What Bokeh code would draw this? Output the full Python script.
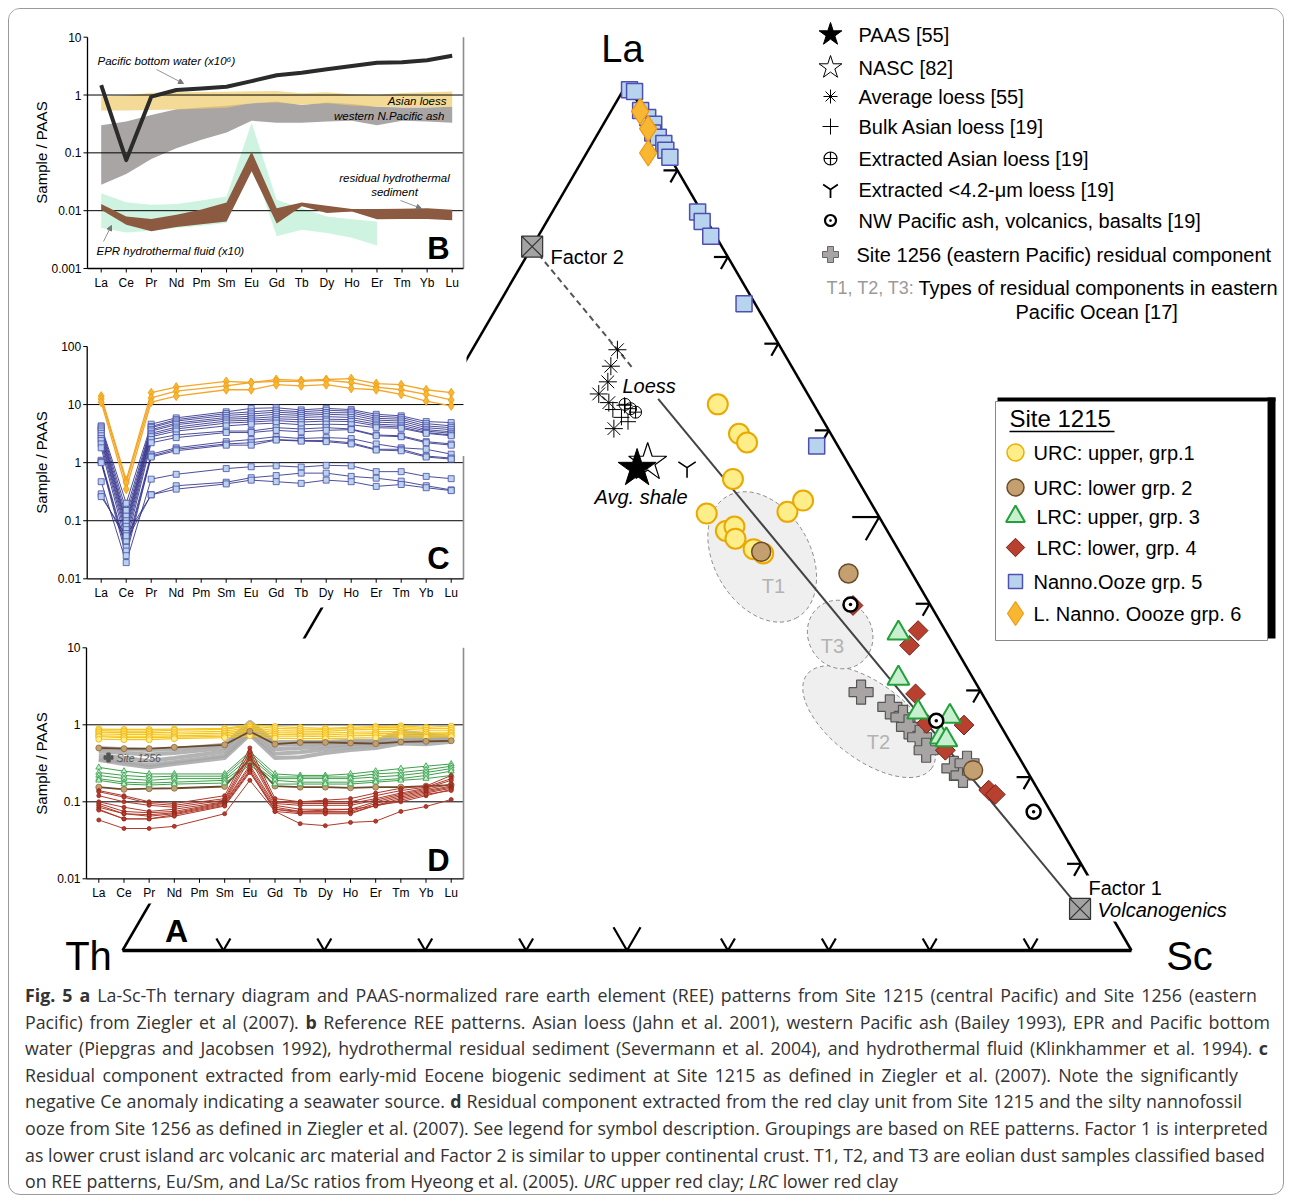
import math
from bokeh.plotting import figure
from bokeh.models import Range1d, LogScale, Div, Arrow, NormalHead
from bokeh.layouts import column
from bokeh.core.properties import value
from bokeh.embed import file_html
from bokeh.resources import INLINE

# ------------------------------------------------------------------ data
REE = ["La", "Ce", "Pr", "Nd", "Pm", "Sm", "Eu", "Gd", "Tb", "Dy", "Ho", "Er", "Tm", "Yb", "Lu"]

# Ternary La-Sc-Th (fractions; Th = 1 - La - Sc)
NANNO_LA = [0.993, 0.991, 0.969, 0.961, 0.953, 0.943, 0.938, 0.931, 0.923, 0.915, 0.852, 0.841, 0.824, 0.746, 0.582]
NANNO_SC = [0.006, 0.012, 0.029, 0.040, 0.050, 0.054, 0.062, 0.071, 0.077, 0.085, 0.144, 0.154, 0.171, 0.243, 0.397]
LNANNO_LA = [0.968, 0.948, 0.920]
LNANNO_SC = [0.029, 0.047, 0.061]
URC_UP_LA = [0.630, 0.596, 0.586, 0.544, 0.504, 0.484, 0.489, 0.475, 0.463, 0.458, 0.506, 0.519]
URC_UP_SC = [0.275, 0.313, 0.326, 0.333, 0.327, 0.356, 0.362, 0.370, 0.394, 0.406, 0.406, 0.415]
URC_LO_LA = [0.460, 0.435, 0.208]
URC_LO_SC = [0.403, 0.502, 0.739]
LRC_UP_LA = [0.366, 0.314, 0.275, 0.270, 0.246, 0.243]
LRC_UP_SC = [0.586, 0.612, 0.651, 0.685, 0.688, 0.695]
LRC_LO_LA = [0.398, 0.369, 0.352, 0.296, 0.262, 0.260, 0.231, 0.185, 0.180]
LRC_LO_SC = [0.525, 0.604, 0.604, 0.638, 0.666, 0.704, 0.700, 0.766, 0.775]
S1256_LA = [0.298, 0.281, 0.269, 0.258, 0.246, 0.231, 0.210, 0.202, 0.216]
S1256_SC = [0.583, 0.620, 0.639, 0.650, 0.667, 0.681, 0.719, 0.732, 0.729]
NWASH_LA = [0.399, 0.265, 0.160]
NWASH_SC = [0.522, 0.674, 0.823]
AVGLOESS_LA = [0.693, 0.674, 0.656, 0.642, 0.632, 0.602]
AVGLOESS_SC = [0.144, 0.147, 0.153, 0.151, 0.166, 0.186]
BULKLOESS_LA = [0.624, 0.629, 0.615, 0.610]
BULKLOESS_SC = [0.174, 0.183, 0.187, 0.196]
EXTLOESS_LA = [0.630, 0.625, 0.621]
EXTLOESS_SC = [0.183, 0.191, 0.198]
FINELOESS_LA = [0.557]
FINELOESS_SC = [0.281]
PAAS_LA, PAAS_SC = [0.556], [0.232]
NASC_LA, NASC_SC = [0.563], [0.239]
FACTOR_LA = [0.812, 0.048]   # Factor 2, Factor 1
FACTOR_SC = [0.000, 0.925]
TICKS = [0.1, 0.2, 0.3, 0.4, 0.5, 0.6, 0.7, 0.8, 0.9]
# eolian dust fields T1, T2, T3 (centres)
FIELD_NAMES = ["T1", "T2", "T3"]
FIELD_LA = [0.454, 0.264, 0.3645]
FIELD_SC = [0.407, 0.608, 0.529]

# Panel B reference patterns (Sample/PAAS)
PBW = [1.49, 0.075, 0.94, 1.22, 1.30, 1.39, 1.74, 2.2, 2.43, 2.78, 3.17, 3.6, 3.7, 4.0, 4.77]
LOESS_LO = [0.54, 0.54, 0.55, 0.56, 0.58, 0.60, 0.72, 0.74, 0.68, 0.72, 0.66, 0.63, 0.62, 0.62, 0.62]
LOESS_HI = [0.94, 0.98, 1.10, 1.12, 1.13, 1.14, 1.16, 1.17, 1.07, 1.12, 1.03, 1.00, 1.08, 1.12, 1.15]
ASH_LO = [0.028, 0.043, 0.078, 0.12, 0.168, 0.225, 0.36, 0.33, 0.33, 0.35, 0.36, 0.30, 0.36, 0.35, 0.33]
ASH_HI = [0.30, 0.35, 0.45, 0.57, 0.61, 0.65, 0.72, 0.77, 0.67, 0.74, 0.70, 0.63, 0.61, 0.61, 0.63]
EPR_HI = [0.020, 0.014, 0.0127, 0.013, 0.015, 0.0176, 0.33, 0.0154, 0.011, 0.0079, 0.0071, 0.0065]
EPR_LO = [0.005, 0.0042, 0.0045, 0.005, 0.0055, 0.0061, 0.07, 0.0036, 0.0047, 0.0041, 0.0034, 0.0025]
RHS_HI = [0.013, 0.0079, 0.0072, 0.0085, 0.0105, 0.0138, 0.105, 0.011, 0.0138, 0.0122, 0.0107, 0.0107, 0.0108, 0.011, 0.0104]
RHS_LO = [0.0104, 0.0057, 0.0044, 0.0052, 0.0058, 0.0065, 0.048, 0.006, 0.0119, 0.0091, 0.0097, 0.0071, 0.0072, 0.0072, 0.0068]

# Panel C: residual component, early-mid Eocene biogenic sediment (Pm not measured)
C_GRP6 = [
    [14, 0.5, 16, 20, None, 25, 24, 27, 26, 27, 28, 23, 22, 18, 16],
    [12.5, 0.45, 13, 17, None, 21, 24, 25, 25, 26, 24, 20, 18, 15, 12],
    [11, 0.35, 11, 14, None, 18, 18, 22, 21, 22, 19, 18, 15, 11.5, 9.5],
]
C_GRP5 = [
    [4.3, 0.20, 4.6, 5.9, None, 7.5, 8.6, 8.8, 8.1, 8.6, 8.2, 6.8, 6.4, 5.1, 4.9],
    [4.1, 0.15, 4.2, 5.5, None, 7.0, 7.5, 8.0, 7.5, 8.0, 7.7, 6.3, 6.0, 4.7, 4.3],
    [3.8, 0.12, 4.0, 5.2, None, 6.5, 6.9, 7.4, 7.0, 7.3, 7.2, 5.8, 5.6, 4.3, 4.0],
    [3.5, 0.10, 3.7, 4.8, None, 6.0, 6.3, 6.8, 6.5, 6.8, 6.6, 5.4, 5.2, 4.0, 3.7],
    [3.2, 0.09, 3.5, 4.5, None, 5.6, 5.8, 6.2, 6.0, 6.2, 6.0, 5.0, 4.8, 3.7, 3.4],
    [2.9, 0.08, 3.2, 4.1, None, 5.2, 5.4, 5.7, 5.5, 5.6, 5.5, 4.6, 4.4, 3.5, 3.2],
    [2.6, 0.07, 3.0, 3.8, None, 4.8, 5.0, 5.3, 5.0, 5.2, 5.1, 4.3, 4.1, 3.3, 3.0],
    [2.4, 0.06, 2.8, 3.5, None, 4.3, 4.6, 4.8, 4.5, 4.6, 4.5, 4.0, 3.9, 3.2, 2.9],
    [2.1, 0.05, 2.5, 3.0, None, 3.5, 3.5, 4.0, 3.8, 4.0, 3.8, 3.0, 2.9, 2.3, 2.1],
    [1.8, 0.04, 2.2, 2.7, None, 3.3, 3.3, 3.6, 3.4, 3.6, 3.7, 2.9, 2.8, 2.2, 2.0],
    [1.1, 0.035, 1.4, 1.8, None, 2.3, 2.5, 2.8, 2.6, 2.7, 2.6, 2.1, 1.8, 1.7, 1.4],
    [1.05, 0.03, 1.3, 1.7, None, 2.1, 2.2, 2.5, 2.4, 2.4, 2.2, 1.7, 1.7, 1.3, 1.2],
    [1.0, 0.025, 1.25, 1.6, None, 2.0, 2.0, 2.45, 2.35, 2.3, 2.1, 1.65, 1.6, 1.25, 1.15],
    [0.47, 0.019, 0.52, 0.63, None, 0.79, 0.85, 0.88, 0.84, 0.90, 0.88, 0.70, 0.70, 0.58, 0.53],
    [0.29, 0.045, 0.28, 0.40, None, 0.46, 0.55, 0.60, 0.66, 0.66, 0.58, 0.54, 0.48, 0.40, 0.34],
    [0.26, 0.055, 0.28, 0.35, None, 0.43, 0.50, 0.47, 0.44, 0.50, 0.47, 0.39, 0.42, 0.37, 0.33],
]

# Panel D: residual component, red clay (Site 1215) and Site 1256
D_S1256 = [
    [0.50, 0.48, 0.47, 0.48, None, 0.55, 1.10, 0.60, 0.60, 0.60, 0.62, 0.62, 0.82, 0.75, 0.70],
    [0.45, 0.43, 0.41, 0.43, None, 0.50, 1.00, 0.55, 0.56, 0.58, 0.60, 0.60, 0.75, 0.70, 0.68],
    [0.40, 0.37, 0.34, 0.37, None, 0.45, 0.90, 0.48, 0.50, 0.53, 0.56, 0.58, 0.68, 0.66, 0.66],
    [0.36, 0.33, 0.30, 0.33, None, 0.40, 0.80, 0.42, 0.44, 0.48, 0.52, 0.55, 0.62, 0.62, 0.63],
    [0.35, 0.31, 0.28, 0.31, None, 0.37, 0.75, 0.37, 0.38, 0.43, 0.47, 0.50, 0.57, 0.56, 0.60],
]
D_GRP1 = [
    [0.88, 0.87, 0.87, 0.88, None, 0.90, 1.00, 0.95, 0.92, 0.90, 0.93, 0.95, 0.97, 0.93, 0.96],
    [0.84, 0.83, 0.83, 0.85, None, 0.87, 0.97, 0.90, 0.88, 0.87, 0.90, 0.92, 0.92, 0.90, 0.90],
    [0.80, 0.79, 0.79, 0.80, None, 0.82, 0.93, 0.84, 0.83, 0.82, 0.86, 0.87, 0.88, 0.85, 0.85],
    [0.76, 0.75, 0.75, 0.76, None, 0.78, 0.88, 0.79, 0.78, 0.78, 0.80, 0.81, 0.82, 0.80, 0.80],
    [0.72, 0.71, 0.71, 0.72, None, 0.74, 0.84, 0.75, 0.74, 0.74, 0.76, 0.77, 0.78, 0.76, 0.77],
    [0.70, 0.68, 0.68, 0.69, None, 0.71, 0.78, 0.71, 0.71, 0.70, 0.72, 0.73, 0.74, 0.72, 0.73],
    [0.65, 0.64, 0.64, 0.66, None, 0.68, 0.72, 0.67, 0.66, 0.66, 0.67, 0.68, 0.70, 0.69, 0.70],
]
D_GRP2 = [
    [0.50, 0.49, 0.49, 0.51, None, 0.55, 0.82, 0.56, 0.59, 0.59, 0.58, 0.57, 0.60, 0.61, 0.62],
    [0.155, 0.145, 0.148, 0.15, None, 0.158, 0.36, 0.16, 0.155, 0.155, 0.152, 0.155, 0.155, 0.16, 0.165],
]
D_GRP3 = [
    [0.28, 0.25, 0.23, 0.23, None, 0.23, 0.45, 0.23, 0.22, 0.22, 0.23, 0.25, 0.27, 0.29, 0.31],
    [0.24, 0.22, 0.21, 0.215, None, 0.215, 0.42, 0.21, 0.21, 0.21, 0.21, 0.23, 0.24, 0.26, 0.29],
    [0.22, 0.20, 0.19, 0.20, None, 0.20, 0.38, 0.20, 0.20, 0.20, 0.20, 0.21, 0.22, 0.24, 0.27],
    [0.20, 0.18, 0.175, 0.18, None, 0.19, 0.33, 0.19, 0.18, 0.18, 0.18, 0.19, 0.20, 0.22, 0.25],
    [0.19, 0.17, 0.165, 0.17, None, 0.175, 0.30, 0.17, 0.17, 0.17, 0.17, 0.18, 0.19, 0.20, 0.22],
]
D_GRP4 = [
    [0.14, 0.12, 0.10, 0.095, None, 0.12, 0.50, 0.11, 0.10, 0.105, 0.11, 0.13, 0.15, 0.16, 0.22],
    [0.135, 0.115, 0.095, 0.09, None, 0.11, 0.45, 0.10, 0.10, 0.10, 0.10, 0.12, 0.14, 0.155, 0.20],
    [0.12, 0.10, 0.09, 0.085, None, 0.105, 0.40, 0.10, 0.095, 0.095, 0.095, 0.11, 0.13, 0.15, 0.19],
    [0.10, 0.085, 0.075, 0.08, None, 0.10, 0.36, 0.095, 0.09, 0.09, 0.09, 0.105, 0.125, 0.145, 0.17],
    [0.095, 0.075, 0.072, 0.075, None, 0.098, 0.30, 0.09, 0.08, 0.08, 0.08, 0.10, 0.12, 0.14, 0.16],
    [0.09, 0.07, 0.068, 0.072, None, 0.096, 0.28, 0.085, 0.075, 0.075, 0.075, 0.095, 0.115, 0.135, 0.155],
    [0.085, 0.07, 0.065, 0.07, None, 0.093, 0.26, 0.08, 0.072, 0.072, 0.072, 0.09, 0.11, 0.13, 0.15],
    [0.08, 0.06, 0.06, 0.068, None, 0.09, 0.25, 0.075, 0.07, 0.07, 0.07, 0.09, 0.10, 0.12, 0.145],
    [0.078, 0.06, 0.06, 0.065, None, 0.088, 0.24, 0.08, 0.075, 0.078, 0.08, 0.088, 0.105, 0.125, 0.14],
    [0.058, 0.045, 0.045, 0.048, None, 0.07, 0.19, 0.075, 0.052, 0.049, 0.054, 0.056, 0.075, 0.087, 0.107],
]

CAPTION = [
    "<b>Fig. 5 a</b> La-Sc-Th ternary diagram and PAAS-normalized rare earth element (REE) patterns from Site 1215 (central Pacific) and Site 1256 (eastern",
    "Pacific) from Ziegler et al (2007). <b>b</b> Reference REE patterns. Asian loess (Jahn et al. 2001), western Pacific ash (Bailey 1993), EPR and Pacific bottom",
    "water (Piepgras and Jacobsen 1992), hydrothermal residual sediment (Severmann et al. 2004), and hydrothermal fluid (Klinkhammer et al. 1994). <b>c</b>",
    "Residual component extracted from early-mid Eocene biogenic sediment at Site 1215 as defined in Ziegler et al. (2007). Note the significantly",
    "negative Ce anomaly indicating a seawater source. <b>d</b> Residual component extracted from the red clay unit from Site 1215 and the silty nannofossil",
    "ooze from Site 1256 as defined in Ziegler et al. (2007). See legend for symbol description. Groupings are based on REE patterns. Factor 1 is interpreted",
    "as lower crust island arc volcanic arc material and Factor 2 is similar to upper continental crust. T1, T2, and T3 are eolian dust samples classified based",
    "on REE patterns, Eu/Sm, and La/Sc ratios from Hyeong et al. (2005). <i>URC</i> upper red clay; <i>LRC</i> lower red clay",
]
CAPTION_WIDTH = [1232, 1245, 1243, 1213, 1217, 1243, 1237, None]   # justified line widths

# ------------------------------------------------------------------ geometry
W, H = 1274, 973
FL, FT = 9, 9                      # page position of the figure frame
OX, OY, KX, KY = 122.0, 950.0, 1009.0, 1001.0   # Th vertex on page, px per ternary unit
S3 = math.sqrt(3) / 2
ARIAL = "Liberation Sans"


def P(X, Y):
    return (X - OX) / KX, (OY - Y) / KY


def tern(la, sc):
    return [s + l / 2 for l, s in zip(la, sc)], [l * S3 for l in la]


p = figure(width=W, height=H,
           x_range=Range1d((FL - OX) / KX, (FL + W - OX) / KX),
           y_range=Range1d((OY - FT - H) / KY, (OY - FT) / KY),
           output_backend="svg", toolbar_location=None, min_border=0,
           x_axis_location=None, y_axis_location=None, outline_line_color=None,
           background_fill_color="white", border_fill_color="white")
p.grid.visible = False


def txt(X, Y, s, size=20, color="black", align="left", baseline="middle",
        style="normal", font=ARIAL, angle=0.0):
    x, y = P(X, Y)
    p.text(x=[x], y=[y], text=[s], angle=angle, text_font=value(font),
           text_font_size=value(f"{size}px"), text_font_style=style,
           text_color=color, text_align=align, text_baseline=baseline)


def quad(X1, X2, Y1, Y2, **kw):
    l, t = P(X1, Y1)
    r, b = P(X2, Y2)
    p.quad(left=[l], right=[r], top=[t], bottom=[b], **kw)


# inset ranges (log scales)
INSETS = {
    "B": dict(X0=100.7, X14=451.7, Yt=36.7, vt=10.0, Yb=268.0, vb=0.001, Xl=87.0, Xr=463.0,
              grid=[1, 0.1, 0.01], yt=[10, 1, 0.1, 0.01, 0.001],
              yl=["10", "1", "0.1", "0.01", "0.001"], rtop=10.0, lab=(152, 248)),
    "C": dict(X0=100.7, X14=450.7, Yt=346.0, vt=100.0, Yb=578.3, vb=0.01, Xl=86.7, Xr=463.0,
              grid=[10, 1, 0.1], yt=[100, 10, 1, 0.1, 0.01],
              yl=["100", "10", "1", "0.1", "0.01"], rtop=1.3, lab=(462, 558)),
    "D": dict(X0=98.3, X14=450.7, Yt=647.3, vt=10.0, Yb=878.3, vb=0.01, Xl=86.0, Xr=463.0,
              grid=[1, 0.1], yt=[10, 1, 0.1, 0.01],
              yl=["10", "1", "0.1", "0.01"], rtop=10.0, lab=(763, 860)),
}
xr_, yr_, ys_ = {}, {}, {}
for k, d in INSETS.items():
    ppi = (d["X14"] - d["X0"]) / 14.0
    lt, lb = math.log10(d["vt"]), math.log10(d["vb"])
    ppd = (d["Yb"] - d["Yt"]) / (lt - lb)
    d["ppi"], d["ppd"] = ppi, ppd
    xr_[k] = Range1d((FL - d["X0"]) / ppi, (FL + W - d["X0"]) / ppi)
    hi = lt + (d["Yt"] - FT) / ppd
    lo = lb - (FT + H - d["Yb"]) / ppd
    yr_[k] = Range1d(10 ** lo, 10 ** hi)
    ys_[k] = LogScale()
p.extra_x_ranges = xr_
p.extra_y_ranges = yr_
p.extra_y_scales = ys_

# ------------------------------------------------------------------ ternary background
ex, ey = tern(FIELD_LA, FIELD_SC)
p.ellipse(x=ex, y=ey, width=[140 / KX, 156 / KX, 70 / KX], height=[96 / KY, 76 / KY, 64 / KY],
          angle=[math.radians(-60), math.radians(-37), math.radians(-60)],
          fill_color="#efefef", line_color="#8a8a8a", line_dash="4 3", line_width=1)
for name, X, Y in [("T1", 773, 585), ("T2", 878, 741), ("T3", 832, 645)]:
    txt(X, Y, name, size=20, color="#b3b3b3", align="center")

# mixing line Factor 2 -> Factor 1
fx, fy = tern(FACTOR_LA, FACTOR_SC)


def along(t):
    return fx[0] + t * (fx[1] - fx[0]), fy[0] + t * (fy[1] - fy[0])


a0, a1, b0 = along(0.0), along(0.184), along(0.23)
p.line([a0[0], a1[0]], [a0[1], a1[1]], line_color="#555555", line_width=2, line_dash="6 4")
p.line([b0[0], fx[1]], [b0[1], fy[1]], line_color="#444444", line_width=2)

# triangle
vx, vy = tern([0, 0, 1, 0], [0, 1, 0, 0])   # Th, Sc, La, Th
p.line([vx[0], vx[2]], [vy[0], vy[2]], line_color="black", line_width=2.5)
p.line([vx[2], vx[1]], [vy[2], vy[1]], line_color="black", line_width=2.5)
p.line([vx[0], vx[1]], [vy[0], vy[1]], line_color="black", line_width=3.5)

# chevron ticks
c30, s30 = math.cos(math.radians(30)), math.sin(math.radians(30))
x0s, y0s, x1s, y1s = [], [], [], []
for s in TICKS:
    L = (27 if abs(s - 0.5) < 1e-9 else 14) / KX
    bx, by = tern([0], [s])
    for dx, dy in [(s30, c30), (-s30, c30)]:
        x0s.append(bx[0]); y0s.append(by[0]); x1s.append(bx[0] + L * dx); y1s.append(by[0] + L * dy)
    rx, ry = tern([1 - s], [s])
    for dx, dy in [(-1.0, 0.0), (-s30, -c30)]:
        x0s.append(rx[0]); y0s.append(ry[0]); x1s.append(rx[0] + L * dx); y1s.append(ry[0] + L * dy)
p.segment(x0=x0s, y0=y0s, x1=x1s, y1=y1s, line_color="black", line_width=2.2)

# white label box for Factor 1 (hides the edge behind the text)
quad(1086, 1228, 875, 921, fill_color="white", line_color=None)

# ------------------------------------------------------------------ insets
quad(20, 471, 22, 296, fill_color="white", line_color=None)
quad(20, 466, 334, 607, fill_color="white", line_color=None)
quad(20, 462, 638, 903, fill_color="white", line_color=None)


def band(k, lo, hi, color, alpha):
    n = len(lo)
    xs = list(range(n)) + list(range(n))[::-1]
    ys = list(hi) + list(lo)[::-1]
    p.patch(xs, ys, fill_color=color, fill_alpha=alpha, line_color=None,
            x_range_name=k, y_range_name=k)


def series(k, rows, color, width, marker=None, msize=6, mfill=None, mline=None, alpha=1.0, mangle=0.0):
    xss, yss, mx, my = [], [], [], []
    for r in rows:
        xs = [i for i, v in enumerate(r) if v is not None]
        ys = [v for v in r if v is not None]
        xss.append(xs); yss.append(ys); mx += xs; my += ys
    p.multi_line(xss, yss, line_color=color, line_width=width, line_alpha=alpha,
                 x_range_name=k, y_range_name=k)
    if marker:
        p.scatter(mx, my, marker=marker, size=msize, angle=mangle, fill_color=mfill, line_color=mline,
                  line_width=0.8, x_range_name=k, y_range_name=k)


def grid(k):
    d = INSETS[k]
    xl = (d["Xl"] - d["X0"]) / d["ppi"]
    xr = (d["Xr"] - d["X0"]) / d["ppi"]
    g = d["grid"]
    p.segment(x0=[xl] * len(g), y0=g, x1=[xr] * len(g), y1=g, line_color="black", line_width=1,
              x_range_name=k, y_range_name=k)


def axes(k):
    d = INSETS[k]
    kw = dict(x_range_name=k, y_range_name=k)
    ppi, ppd = d["ppi"], d["ppd"]
    xl = (d["Xl"] - d["X0"]) / ppi
    xr = (d["Xr"] - d["X0"]) / ppi
    vb, vt = d["vb"], d["vt"]
    p.segment(x0=[xr], y0=[vb], x1=[xr], y1=[d["rtop"]], line_color="#8c8c8c", line_width=1.6, **kw)
    p.segment(x0=[xl, xl], y0=[vb, vb], x1=[xl, xr], y1=[vt, vb], line_color="black", line_width=1.3, **kw)
    yt = d["yt"]
    p.segment(x0=[xl - 4 / ppi] * len(yt), y0=yt, x1=[xl] * len(yt), y1=yt, line_color="black", line_width=1, **kw)
    idx = list(range(15))
    f = 10 ** (-4 / ppd)
    p.segment(x0=idx, y0=[vb] * 15, x1=idx, y1=[vb * f] * 15, line_color="black", line_width=1, **kw)
    p.text(x=[xl - 6 / ppi] * len(yt), y=yt, text=d["yl"], text_font=value(ARIAL),
           text_font_size=value("12px"), text_align="right", text_baseline="middle", **kw)
    p.text(x=idx, y=[vb * 10 ** (-14 / ppd)] * 15, text=REE, text_font=value(ARIAL),
           text_font_size=value("12px"), text_align="center", text_baseline="middle", **kw)
    txt(41, d["lab"][0], "Sample / PAAS", size=15, align="center", angle=math.pi / 2)
    txt(438, d["lab"][1], k, size=31, align="center", style="bold")


# --- B
band("B", ASH_LO, ASH_HI, "#a9a5a5", 1.0)
band("B", LOESS_LO, LOESS_HI, "#eecb6a", 0.7)
band("B", EPR_LO, EPR_HI, "#c6f1dc", 0.85)
grid("B")
band("B", RHS_LO, RHS_HI, "#8c5a40", 1.0)
p.line(list(range(15)), PBW, line_color="#2b2b2b", line_width=4, line_join="round",
       x_range_name="B", y_range_name="B")
axes("B")
txt(97, 60, "Pacific bottom water (x10\u2076)", size=11.5, style="italic")
txt(446, 100, "Asian loess", size=11.5, style="italic", align="right")
txt(444, 115, "western N.Pacific ash", size=11.5, style="italic", align="right")
txt(394, 177, "residual hydrothermal", size=11.5, style="italic", align="center")
txt(394, 191, "sediment", size=11.5, style="italic", align="center")
txt(96, 250, "EPR hydrothermal fluid (x10)", size=11.5, style="italic")
for (X1, Y1, X2, Y2) in [(156, 69, 183, 83), (400, 200, 421, 208), (103, 241, 111, 225)]:
    sx, sy = P(X1, Y1)
    ex_, ey_ = P(X2, Y2)
    p.add_layout(Arrow(end=NormalHead(size=5, line_color="#777777", fill_color="#777777"),
                       x_start=sx, y_start=sy, x_end=ex_, y_end=ey_, line_color="#777777", line_width=0.8))

# --- C
grid("C")
series("C", C_GRP5, "#2e2e8a", 1.0, "square", 6, "#b7d3ee", "#4a4aa8", alpha=0.85)
series("C", C_GRP6, "#f4a62a", 1.3, "diamond", 9, "#f7b733", "#f09a10")
axes("C")

# --- D
grid("D")
series("D", D_S1256, "#a6a6a6", 4.0, alpha=0.85)
series("D", D_GRP1, "#f5c518", 1.2, "circle", 6, "#fdec8c", "#f0b000")
series("D", D_GRP2, "#6b4a2b", 1.8, "circle", 6, "#c4a070", "#8a6a40")
series("D", D_GRP3, "#3da04a", 1.0, "triangle", 6, "#c8f0d0", "#2f9a45")
series("D", D_GRP4, "#b03a2a", 1.0, "circle", 4, "#c0392b", "#8b2a1e")
axes("D")
mx, my = P(108, 757)
p.scatter([mx], [my], marker="plus", size=9, fill_color="#555555", line_color="#555555")
txt(116, 757, "Site 1256", size=10.5, style="italic", color="#555555")

# ------------------------------------------------------------------ ternary points
tx, ty = tern(URC_UP_LA, URC_UP_SC)
p.scatter(tx, ty, marker="circle", size=20, fill_color="#fdee8a", line_color="#eaa800", line_width=2)
tx, ty = tern(S1256_LA, S1256_SC)
p.scatter(tx, ty, marker="plus", size=24, fill_color="#a8a4a4", line_color="#555555", line_width=1.2)
tx, ty = tern(URC_LO_LA, URC_LO_SC)
p.scatter(tx, ty, marker="circle", size=19, fill_color="#c4a070", line_color="#6b4c2a", line_width=1.5)
tx, ty = tern(LRC_LO_LA, LRC_LO_SC)
p.scatter(tx, ty, marker="square", angle=math.pi / 4, size=14, fill_color="#b8402e",
          line_color="#7a2018", line_width=1)
tx, ty = tern(LRC_UP_LA, LRC_UP_SC)
p.scatter(tx, ty, marker="triangle", size=22, fill_color="#c8f0d0", line_color="#22a03a", line_width=2)
tx, ty = tern(NWASH_LA, NWASH_SC)
p.scatter(tx, ty, marker="circle_dot", size=14, fill_color="white", line_color="black", line_width=2.5)
tx, ty = tern(NANNO_LA, NANNO_SC)
p.scatter(tx, ty, marker="square", size=16, fill_color="#b7d3ee", line_color="#4f4fb0", line_width=1.5)
tx, ty = tern(LNANNO_LA, LNANNO_SC)
p.scatter(tx, ty, marker="diamond", size=26, fill_color="#f7b733", line_color="#f09a10", line_width=1.2)
tx, ty = tern(AVGLOESS_LA, AVGLOESS_SC)
p.scatter(tx, ty, marker="asterisk", size=18, line_color="black", line_width=1)
tx, ty = tern(BULKLOESS_LA, BULKLOESS_SC)
p.scatter(tx, ty, marker="cross", size=16, line_color="black", line_width=1)
tx, ty = tern(EXTLOESS_LA, EXTLOESS_SC)
p.scatter(tx, ty, marker="circle_cross", size=12, fill_color=None, line_color="black", line_width=1)
tx, ty = tern(FINELOESS_LA, FINELOESS_SC)
p.scatter(tx, ty, marker="y", size=20, line_color="black", line_width=1.6)
tx, ty = tern(NASC_LA, NASC_SC)
p.scatter(tx, ty, marker="star", size=40, fill_color="white", line_color="black", line_width=1.2)
tx, ty = tern(PAAS_LA, PAAS_SC)
p.scatter(tx, ty, marker="star", size=40, fill_color="black", line_color="black")
p.scatter(fx, fy, marker="square_x", size=21, fill_color="#a3a3a3", line_color="#333333", line_width=1.2)

# ------------------------------------------------------------------ ternary labels
txt(622, 48, "La", size=38, align="center")
txt(88, 955, "Th", size=40, align="center")
txt(1189, 955, "Sc", size=40, align="center")
txt(176, 930, "A", size=32, align="center", style="bold")
txt(550, 256, "Factor 2", size=20)
txt(1088, 887, "Factor 1", size=20)
txt(1097, 909, "Volcanogenics", size=20, style="italic")
txt(622, 385, "Loess", size=20, style="italic")
txt(594, 496, "Avg. shale", size=20, style="italic")

# ------------------------------------------------------------------ legend (references)
LEG = [
    ("PAAS [55]", 34, dict(marker="star", size=24, fill_color="black", line_color="black")),
    ("NASC [82]", 67, dict(marker="star", size=24, fill_color="white", line_color="black", line_width=1)),
    ("Average loess [55]", 96, dict(marker="asterisk", size=14, line_color="black", line_width=1)),
    ("Bulk Asian loess [19]", 126, dict(marker="cross", size=16, line_color="black", line_width=1)),
    ("Extracted Asian loess [19]", 158, dict(marker="circle_cross", size=13, fill_color=None, line_color="black", line_width=1.2)),
    ("Extracted <4.2-\u03bcm loess [19]", 189, dict(marker="y", size=17, line_color="black", line_width=1.8)),
    ("NW Pacific ash, volcanics, basalts [19]", 220, dict(marker="circle_dot", size=11, fill_color="white", line_color="black", line_width=2.2)),
    ("Site 1256 (eastern Pacific) residual component", 254, dict(marker="plus", size=16, fill_color="#a8a4a4", line_color="#666666")),
]
for label, Y, mk in LEG:
    mx, my = P(830, Y)
    p.scatter([mx], [my], **mk)
    txt(858 if Y < 250 else 856, Y, label, size=20)
txt(826, 287, "T1, T2, T3:", size=18, color="#9a9a9a")
txt(918, 287, "Types of residual components in eastern", size=20)
txt(1015, 311, "Pacific Ocean [17]", size=20)

# ------------------------------------------------------------------ legend (Site 1215)
quad(997, 1275, 397, 401, fill_color="black", line_color=None)
quad(1267, 1275, 397, 638, fill_color="black", line_color=None)
quad(995, 1267, 401, 640, fill_color="white", line_color="#888888", line_width=1)
txt(1009, 418, "Site 1215", size=24)
ux0, uy0 = P(1009, 431)
ux1, uy1 = P(1114, 431)
p.line([ux0, ux1], [uy0, uy1], line_color="black", line_width=1.5)
LEG2 = [
    ("URC: upper, grp.1", 452, 1033, dict(marker="circle", size=17, fill_color="#fdee8a", line_color="#eab000", line_width=1.5)),
    ("URC: lower grp. 2", 487, 1033, dict(marker="circle", size=17, fill_color="#c4a070", line_color="#6b4c2a", line_width=1.5)),
    ("LRC: upper, grp. 3", 516, 1036, dict(marker="triangle", size=19, fill_color="#c8f0d0", line_color="#22a03a", line_width=2)),
    ("LRC: lower, grp. 4", 547, 1036, dict(marker="square", angle=math.pi / 4, size=13, fill_color="#b8402e", line_color="#7a2018", line_width=1)),
    ("Nanno.Ooze grp. 5", 581, 1033, dict(marker="square", size=14, fill_color="#b7d3ee", line_color="#5050b0", line_width=1.5)),
    ("L. Nanno. Oooze grp. 6", 613, 1033, dict(marker="diamond", size=24, fill_color="#f7b733", line_color="#f09a10", line_width=1.2)),
]
for label, Y, X, mk in LEG2:
    mx, my = P(1015, Y)
    p.scatter([mx], [my], **mk)
    txt(X, Y, label, size=20)

# ------------------------------------------------------------------ caption
rows = []
for line, wdt in zip(CAPTION, CAPTION_WIDTH):
    if wdt:
        rows.append(f'<div style="width:{wdt}px;text-align:justify;text-align-last:justify;">{line}</div>')
    else:
        rows.append(f"<div>{line}</div>")
cap_html = ("<div style=\"font-family:'Open Sans',sans-serif;font-size:17.8px;line-height:26.6px;"
            "color:#333333;white-space:nowrap;padding-left:16px;\">" + "".join(rows) + "</div>")
cap = Div(text=cap_html, width=W, height=212, styles={"margin": "0", "padding": "0"})

layout = column(p, cap, styles={"border": "1px solid #9a9a9a", "border-radius": "12px",
                                "overflow": "hidden", "margin": "8px"})
open("out.html", "w").write(file_html(layout, INLINE))
